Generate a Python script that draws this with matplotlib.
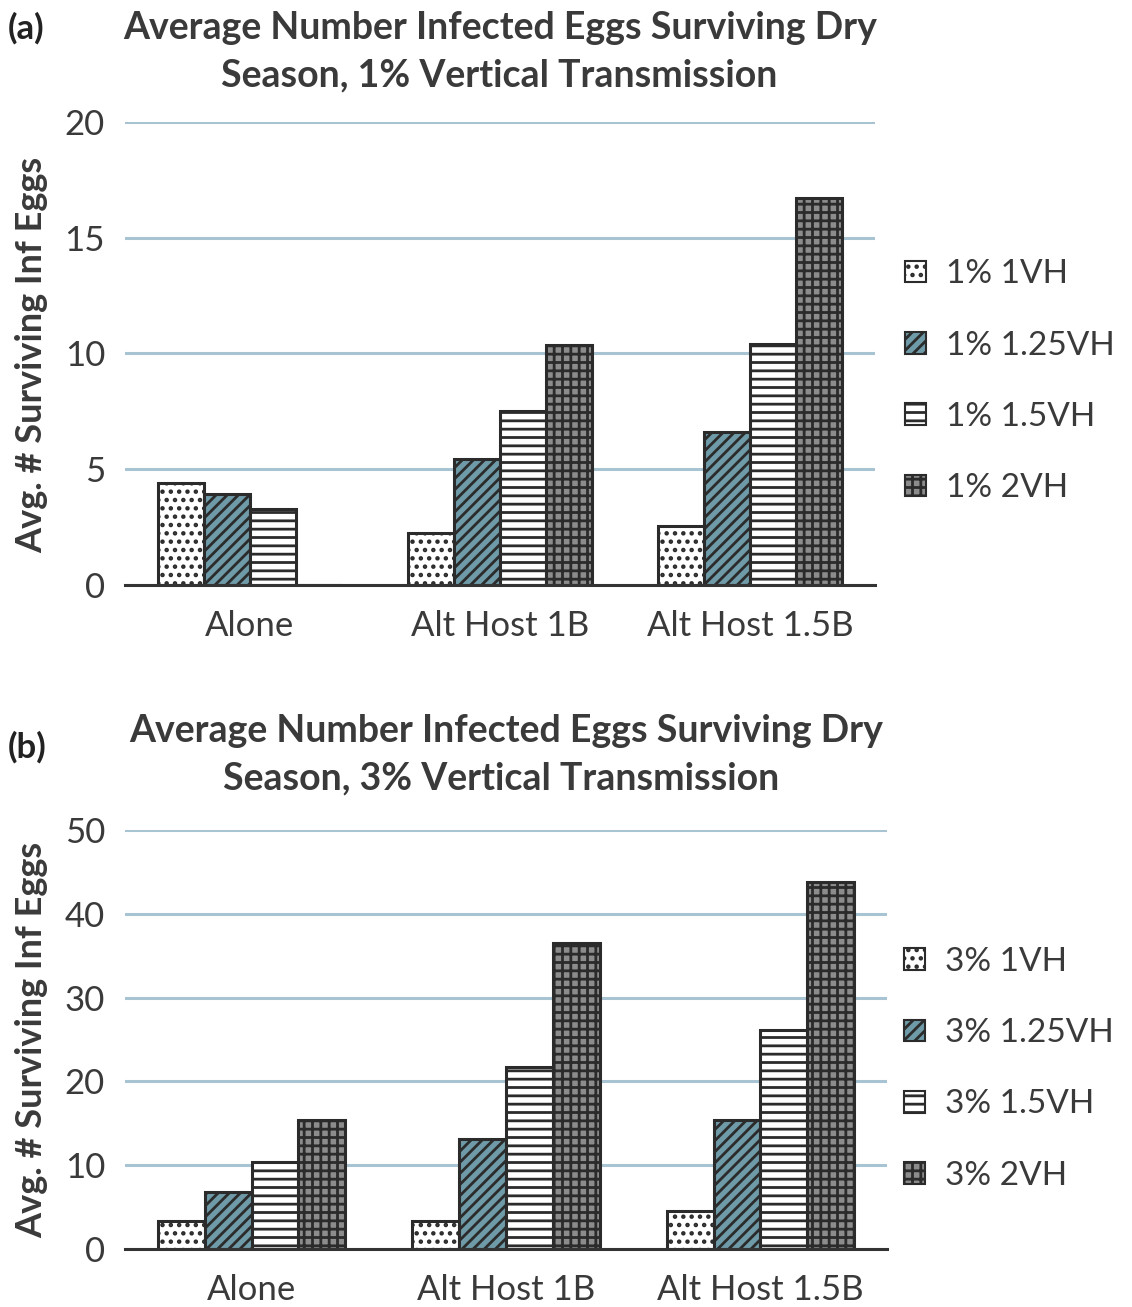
import numpy as np
import matplotlib
matplotlib.use('Agg')
import matplotlib.pyplot as plt
from matplotlib.patches import Patch

plt.rcParams['font.family'] = ['Lato', 'DejaVu Sans']
plt.rcParams['hatch.linewidth'] = 2.0

categories = ['Alone', 'Alt Host 1B', 'Alt Host 1.5B']

# panel (a): 1% vertical transmission
labels_a = ['1% 1VH', '1% 1.25VH', '1% 1.5VH', '1% 2VH']
a_1vh = [4.4, 2.25, 2.55]
a_125vh = [3.95, 5.45, 6.6]
a_15vh = [3.3, 7.5, 10.4]
a_2vh = [0.0, 10.35, 16.7]

# panel (b): 3% vertical transmission
labels_b = ['3% 1VH', '3% 1.25VH', '3% 1.5VH', '3% 2VH']
b_1vh = [3.3, 3.3, 4.5]
b_125vh = [6.8, 13.1, 15.4]
b_15vh = [10.4, 21.7, 26.1]
b_2vh = [15.4, 36.5, 43.8]

styles = [
    dict(facecolor='white', hatch='..'),
    dict(facecolor='#6f9aa8', hatch='///'),
    dict(facecolor='white', hatch='--'),
    dict(facecolor='#8c8c8c', hatch='++'),
]

EDGE = '#2b2b2b'
TXT = '#3a3a3a'
GRID = '#a8c3d2'


def draw_panel(ax, series, labels, ymax, ystep, legend_xy):
    x = np.arange(len(categories))
    w = 0.184
    for i, (vals, st) in enumerate(zip(series, styles)):
        ax.bar(x + (i - 1.5) * w, vals, w, edgecolor=EDGE, linewidth=2.2,
               zorder=3, **st)
    ax.set_xlim(-0.5, len(categories) - 0.5)
    ax.set_ylim(0, ymax)
    ax.set_yticks(np.arange(0, ymax + 1, ystep))
    ax.set_xticks(x)
    ax.set_xticklabels(categories)
    ax.yaxis.grid(True, color=GRID, linewidth=2.2, zorder=0)
    ax.set_axisbelow(True)
    for s in ['left', 'right', 'top']:
        ax.spines[s].set_visible(False)
    ax.spines['bottom'].set_color('#333333')
    ax.spines['bottom'].set_linewidth(2.2)
    ax.spines['bottom'].set_zorder(4)
    ax.tick_params(length=0, labelsize=25, colors=TXT)
    ax.tick_params(axis='x', pad=18)
    ax.tick_params(axis='y', pad=14)
    handles = [Patch(edgecolor=EDGE, linewidth=1.5, label=l, **st)
               for l, st in zip(labels, styles)]
    ax.legend(handles=handles, loc='center left',
              bbox_to_anchor=legend_xy, frameon=False, fontsize=24,
              handlelength=0.62, handleheight=0.62, handletextpad=0.6,
              labelspacing=1.24, labelcolor=TXT, borderaxespad=0,
              borderpad=0)


fig = plt.figure(figsize=(11.32, 13.07), dpi=100)
ax_a = fig.add_axes([0.110, 0.5524, 0.663, 0.3543])
ax_b = fig.add_axes([0.110, 0.0444, 0.674, 0.3206])

draw_panel(ax_a, [a_1vh, a_125vh, a_15vh, a_2vh], labels_a, 20, 5,
           (1.04, 0.44))
draw_panel(ax_b, [b_1vh, b_125vh, b_15vh, b_2vh], labels_b, 50, 10,
           (1.022, 0.43))

H = 1307.0
W = 1132.0
title_kw = dict(fontsize=27, fontweight='bold', color=TXT, ha='center',
                va='center')
fig.text(500 / W, 1 - 28 / H, 'Average Number Infected Eggs Surviving Dry', **title_kw)
fig.text(499 / W, 1 - 75 / H, 'Season, 1% Vertical Transmission', **title_kw)
fig.text(506 / W, 1 - 731 / H, 'Average Number Infected Eggs Surviving Dry', **title_kw)
fig.text(501 / W, 1 - 778 / H, 'Season, 3% Vertical Transmission', **title_kw)

fig.text(8 / W, 1 - 28 / H, '(a)', fontsize=25, fontweight='bold',
         color='#222222', va='center')
fig.text(8 / W, 1 - 747 / H, '(b)', fontsize=25, fontweight='bold',
         color='#222222', va='center')

ylab_kw = dict(fontsize=26, fontweight='bold', color=TXT, rotation=90,
               ha='center', va='center')
fig.text(32 / W, 1 - 355 / H, 'Avg. # Surviving Inf Eggs', **ylab_kw)
fig.text(32 / W, 1 - 1040 / H, 'Avg. # Surviving Inf Eggs', **ylab_kw)

fig.savefig('out.png', dpi=100)
